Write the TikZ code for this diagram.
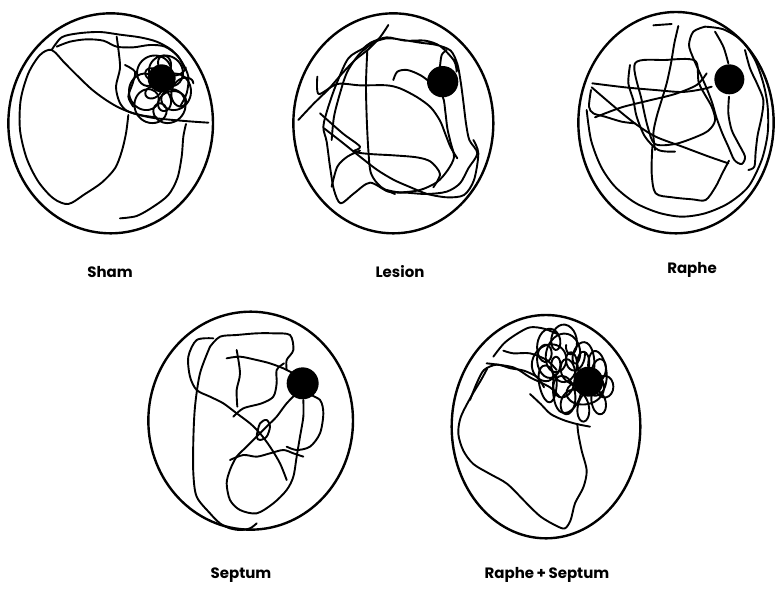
\documentclass[tikz,border=0pt]{standalone}
\usepackage{fontspec}
\newfontfamily\labfont{Poppins}
\tikzset{
  tank/.style={line width=2.4pt},
  swim/.style={line width=1.9pt, line join=round, line cap=round},
  platform/.style={fill=black},
  lab/.style={font=\labfont\bfseries\fontsize{15}{17}\selectfont, inner sep=0pt}
}
\begin{document}
\begin{tikzpicture}[x=1pt,y=-1pt]
\useasboundingbox (0,0) rectangle (775,588);
% ---------------- Sham
\begin{scope}[shift={(0,0)},scale=1/3]
\draw[tank] (332,370) ellipse [x radius=307, y radius=330];
\fill[platform] (485,235) circle [radius=42];
\draw[swim] plot[smooth] coordinates {(360,655) (410,648) (460,620) (505,585) (532,535) (545,470) (550,410) (558,372)};
\draw[swim] plot[smooth] coordinates {(385,345) (378,400) (365,455) (345,505) (305,548) (255,582) (205,612) (160,595) (115,545) (80,475) (60,390) (62,300) (85,220) (120,165) (155,150) (195,190) (235,230) (275,268) (315,298) (355,322) (400,340) (455,353) (520,360) (580,365) (625,368)};
\draw[swim] plot[smooth] coordinates {(155,150) (185,112) (235,100) (300,96) (360,104) (420,112) (470,125) (515,150) (545,185) (565,230) (560,280) (540,320)};
\draw[swim] plot[smooth] coordinates {(170,140) (210,125) (260,118) (310,122) (350,140) (400,142) (450,135) (495,140) (535,170) (555,210)};
\draw[swim] plot[smooth] coordinates {(350,110) (356,155) (360,205) (348,260) (358,305) (380,332) (425,346) (470,352)};
\draw[swim] plot[smooth] coordinates {(375,195) (405,215) (398,250) (385,290) (400,320)};
\draw[swim] plot[smooth, domain=0:360, samples=140, variable=\t] ({480+55*cos(\t)+(38+8*sin(3*\t))*cos(7*\t)}, {270+70*sin(\t)+(38+8*sin(3*\t))*sin(7*\t)});
\draw[swim] plot[smooth, domain=0:300, samples=120, variable=\t] ({505+45*cos(\t)+30*cos(-6*\t)}, {250+55*sin(\t)+30*sin(-6*\t)});
\end{scope}
% ---------------- Lesion
\begin{scope}[shift={(260,0)},scale=1/3]
\draw[tank] (400,370) ellipse [x radius=300, y radius=330];
\fill[platform] (548,245) circle [radius=47];
\draw[swim] plot[smooth] coordinates {(115,360) (160,312) (205,268) (245,222) (285,180) (325,148) (360,112) (385,75)};
\draw[swim] plot[smooth] coordinates {(330,130) (380,115) (430,120) (480,128) (530,135) (572,152) (592,192) (602,245) (610,305) (618,370) (628,420) (652,460) (625,505) (600,550) (560,575) (500,582) (440,578) (385,575) (330,548) (282,580) (242,610) (222,570) (210,500) (200,425) (190,380) (205,320) (230,250) (265,175) (310,145) (332,128) (380,112) (435,122) (495,122) (540,138) (582,182) (590,215)};
\draw[swim] plot[smooth] coordinates {(400,240) (412,215) (442,210) (482,226) (515,252) (548,290) (556,335) (562,385) (572,428) (582,472) (562,512) (530,547) (480,570) (420,577) (380,570)};
\draw[swim] plot[smooth] coordinates {(322,150) (318,250) (320,350) (325,450) (333,520) (362,560) (405,582)};
\draw[swim] plot[smooth] coordinates {(180,340) (248,400) (300,440) (280,455) (330,462) (400,466) (470,472) (512,485) (540,522) (520,562)};
\draw[swim] plot[smooth] coordinates {(192,385) (240,422) (300,470) (352,510) (402,540) (452,562) (502,582) (562,592) (612,585) (642,540) (655,460) (640,420)};
\draw[swim] plot[smooth] coordinates {(172,230) (176,282) (232,252) (300,256) (380,256) (422,266) (472,292) (512,322) (540,362) (556,402) (572,442) (592,475)};
\draw[swim] plot[smooth] coordinates {(540,200) (545,165) (560,150)};
\draw[swim] plot[smooth] coordinates {(215,560) (232,500) (262,470) (300,452)};
\draw[swim] plot[smooth] coordinates {(345,125) (300,160) (262,215) (240,280) (222,350) (215,420)};
\end{scope}
% ---------------- Raphe
\begin{scope}[shift={(515,0)},scale=1/3]
\draw[tank] (483,368) ellipse [x radius=293, y radius=332];
\fill[platform] (643,238) circle [radius=45];
\draw[swim] plot[smooth] coordinates {(215,330) (228,420) (258,500) (300,560) (360,608) (430,638) (500,650) (570,640) (640,610) (700,560) (740,480) (758,400) (758,320) (745,250) (720,180) (680,122) (625,88) (570,80)};
\draw[swim] plot[smooth] coordinates {(415,76) (470,72)};
\draw[swim] plot[smooth] coordinates {(490,78) (478,130) (468,190) (455,250) (440,300) (425,350) (415,400) (420,450)};
\draw[swim] plot[smooth] coordinates {(570,80) (535,95) (522,135) (535,175) (555,220) (575,265) (592,310) (605,355) (622,400) (640,440) (658,480) (680,492) (690,470) (670,430) (650,390) (640,340) (642,290)};
\draw[swim] plot[smooth] coordinates {(600,95) (625,140) (640,190)};
\draw[swim] plot[smooth] coordinates {(690,150) (705,205) (728,255) (745,300) (740,350) (728,405) (722,455) (718,500) (700,510)};
\draw[swim] plot[smooth] coordinates {(232,250) (330,262) (420,270) (500,276) (560,268) (590,260)};
\draw[swim] plot[smooth] coordinates {(230,262) (300,322) (362,372) (422,410) (502,440) (582,470) (640,490)};
\draw[swim] plot[smooth] coordinates {(240,352) (320,322) (400,302) (480,282) (545,255) (575,220)};
\draw[swim] plot[smooth cycle] coordinates {(360,190) (450,180) (540,182) (552,250) (590,320) (600,362) (580,392) (540,412) (480,432) (420,432) (398,380) (380,300)};
\draw[swim] plot[smooth] coordinates {(412,440) (410,520) (422,580) (472,592) (532,598) (572,600) (602,560) (622,520) (642,482)};
\draw[swim] plot[smooth] coordinates {(228,270) (222,320) (235,340) (270,350) (320,365) (360,370)};
\draw[swim] plot[smooth] coordinates {(345,195) (340,250) (355,300) (365,350) (390,410) (430,450) (480,455)};
\end{scope}
% ---------------- Septum
\begin{scope}[shift={(130,290)},scale=1/3]
\draw[tank] (362,392) ellipse [x radius=307, y radius=327];
\fill[platform] (518,280) circle [radius=48];
\draw[swim] plot[smooth] coordinates {(290,205) (330,200) (380,210) (420,220) (460,235) (490,250)};
\draw[swim] plot[smooth] coordinates {(250,145) (200,150) (175,200) (180,260) (200,300) (240,320) (280,340) (320,370) (360,400) (390,430) (420,470) (450,520) (470,570)};
\draw[swim] plot[smooth] coordinates {(240,170) (270,140) (320,135) (380,130) (430,130) (480,135) (490,180) (470,210) (470,240)};
\draw[swim] plot[smooth] coordinates {(240,170) (210,250) (195,350) (190,450) (190,550) (200,620) (240,670) (270,700) (300,715) (330,720) (360,715) (380,700)};
\draw[swim] plot[smooth] coordinates {(500,310) (470,340) (440,380) (420,400) (400,420) (380,440) (350,470) (320,500) (300,540) (290,580) (300,630) (330,660) (380,670) (430,640) (470,600) (490,560) (500,500) (510,440) (520,380) (520,330)};
\draw[swim] plot[smooth cycle] coordinates {(380,440) (390,400) (410,390) (420,410) (410,440) (390,450)};
\draw[swim] plot[smooth] coordinates {(530,310) (570,330) (580,370) (570,430) (540,470) (500,480) (470,470)};
\draw[swim] plot[smooth] coordinates {(310,380) (340,355) (395,340) (430,320) (440,280) (440,240) (462,220)};
\draw[swim] plot[smooth] coordinates {(320,180) (330,250) (320,300) (322,350)};
\draw[swim] plot[smooth] coordinates {(300,510) (340,495) (380,500) (420,490) (460,480) (490,490) (520,500)};
\end{scope}
% ---------------- Raphe + Septum
\begin{scope}[shift={(450,290)},scale=1/3]
\draw[tank] (288,410) ellipse [x radius=283, y radius=335];
\fill[platform] (415,275) circle [radius=45];
\draw[swim] plot[smooth] coordinates {(60,330) (80,280) (102,240) (140,224) (182,235) (222,242) (262,262) (282,292)};
\draw[swim] plot[smooth] coordinates {(112,235) (92,272) (62,322) (32,382) (25,432) (40,482) (70,522) (120,552) (172,582) (230,640) (272,680) (320,708) (345,715) (362,690) (375,640) (400,592) (410,542) (395,482) (385,432) (382,402)};
\draw[swim] plot[smooth] coordinates {(240,312) (272,342) (302,372) (340,390) (380,402) (420,410)};
\draw[swim] plot[smooth] coordinates {(130,200) (162,160) (200,132) (240,112) (282,116) (322,132)};
\draw[swim] plot[smooth] coordinates {(160,182) (190,190) (240,190) (290,210) (320,240)};
\draw[swim] plot[smooth] coordinates {(110,220) (190,232) (240,262) (300,292) (330,322)};
\draw[swim] plot[smooth, domain=0:360, samples=160, variable=\t] ({360+80*cos(\t)+(30+15*sin(2*\t))*cos(8*\t)}, {250+70*sin(\t)+(45+10*cos(3*\t))*sin(8*\t)});
\draw[swim] plot[smooth, domain=0:360, samples=140, variable=\t] ({400+60*cos(\t)+30*cos(-7*\t)}, {290+60*sin(\t)+45*sin(-7*\t)});
\draw[swim] plot[smooth, domain=0:330, samples=120, variable=\t] ({330+50*cos(\t)+25*cos(6*\t)}, {190+50*sin(\t)+38*sin(6*\t)});
\end{scope}
% ---------------- labels
\node[lab] (lsham) at (110,272) {Sham};
\node[lab] (llesion) at (400,272) {Lesion};
\node[lab] (lraphe) at (692,270) {Raphe};
\node[lab] (lseptum) at (241,575) {Septum};
\node[lab] (lrs) at (547,575) {Raphe\,+\,Septum};
\end{tikzpicture}
\end{document}
